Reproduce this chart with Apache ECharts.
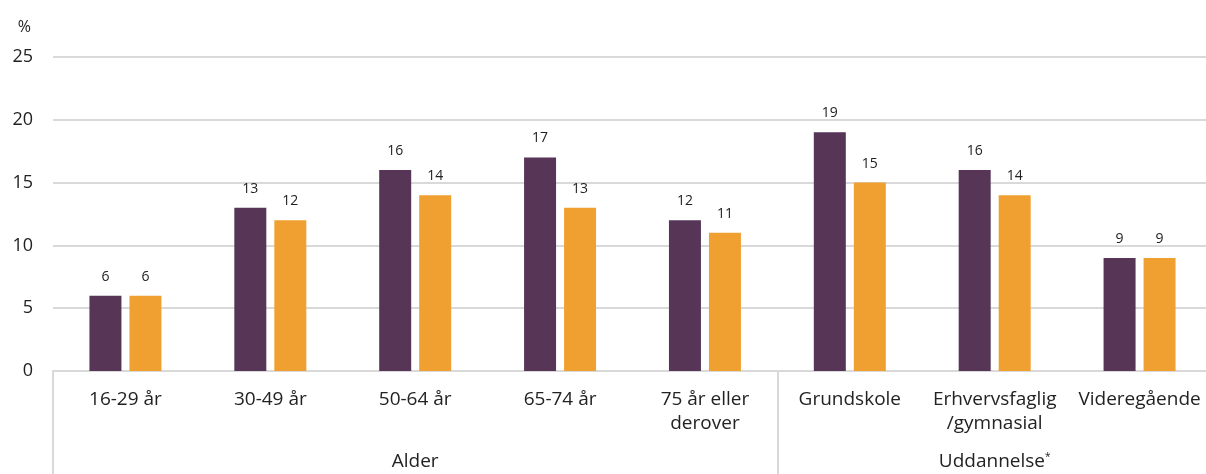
<!DOCTYPE html>
<html>
<head>
<meta charset="utf-8">
<script src="https://cdn.jsdelivr.net/npm/echarts@6/dist/echarts.min.js"></script>
<style>
  html, body { margin: 0; padding: 0; background: #fff; }
  #chart { width: 1206px; height: 474px; }
</style>
</head>
<body>
<div id="chart"></div>
<script>
var categories = ['16-29 år', '30-49 år', '50-64 år', '65-74 år', '75 år eller\nderover',
    'Grundskole', 'Erhvervsfaglig\n/gymnasial', 'Videregående'];
var seriesA = [6, 13, 16, 17, 12, 19, 16, 9];
var seriesB = [6, 12, 14, 13, 11, 15, 14, 9];
var groupNames = ['Alder', 'Uddannelse'];
var groupCenters = [2.5, 6.5];
var groupBorders = [0, 5, 8];

var chartDom = document.getElementById('chart');
var myChart = echarts.init(chartDom, null, { renderer: 'canvas' });
var font = '"Open Sans", sans-serif';

var option = {
    backgroundColor: '#fff',
    animation: false,
    grid: {
        left: 53,
        width: 1159,
        top: 57,
        bottom: 103,
        containLabel: false,
        outerBoundsMode: 'none'
    },
    xAxis: [
        {
            type: 'category',
            data: categories,
            axisLine: { lineStyle: { color: '#d9d9d9', width: 2 } },
            axisTick: { show: false },
            axisLabel: {
                interval: 0,
                margin: 17,
                color: '#222',
                fontSize: 19,
                fontFamily: font,
                lineHeight: 24,
                hideOverlap: false
            }
        },
        {
            type: 'value',
            min: 0,
            max: 8,
            position: 'bottom',
            axisLine: { show: false },
            splitLine: { show: false },
            axisTick: {
                show: true,
                customValues: groupBorders,
                length: 104,
                lineStyle: { color: '#d9d9d9', width: 2 }
            },
            axisLabel: {
                customValues: groupCenters,
                margin: 81,
                color: '#222',
                fontSize: 19,
                fontFamily: font,
                formatter: function (value) {
                    if (value === groupCenters[0]) {
                        return groupNames[0];
                    }
                    return '{a|' + groupNames[1] + '}{s|*}';
                },
                rich: {
                    a: { fontSize: 19, fontFamily: font, color: '#222' },
                    s: { fontSize: 10, fontFamily: font, color: '#222', verticalAlign: 'top', padding: [0, 0, 8, 0] }
                }
            }
        }
    ],
    yAxis: {
        type: 'value',
        min: 0,
        max: 25,
        interval: 5,
        name: '%',
        nameGap: 22,
        nameTextStyle: { color: '#222', fontSize: 16, fontFamily: font, align: 'right', padding: [0, 22, 0, 0] },
        axisLine: { show: false },
        axisTick: { show: false },
        axisLabel: { color: '#222', fontSize: 18, fontFamily: font, margin: 20 },
        splitLine: { lineStyle: { color: '#d9d9d9', width: 2 } }
    },
    series: [
        {
            type: 'bar',
            data: seriesA,
            barWidth: 32,
            barGap: '25%',
            itemStyle: { color: '#563556' },
            label: { show: true, position: 'top', distance: 12, color: '#222', fontSize: 14, fontFamily: font }
        },
        {
            type: 'bar',
            data: seriesB,
            barWidth: 32,
            itemStyle: { color: '#F0A030' },
            label: { show: true, position: 'top', distance: 12, color: '#222', fontSize: 14, fontFamily: font }
        }
    ]
};

option && myChart.setOption(option);
window.addEventListener('resize', function () {
    myChart.resize();
});
</script>
</body>
</html>
